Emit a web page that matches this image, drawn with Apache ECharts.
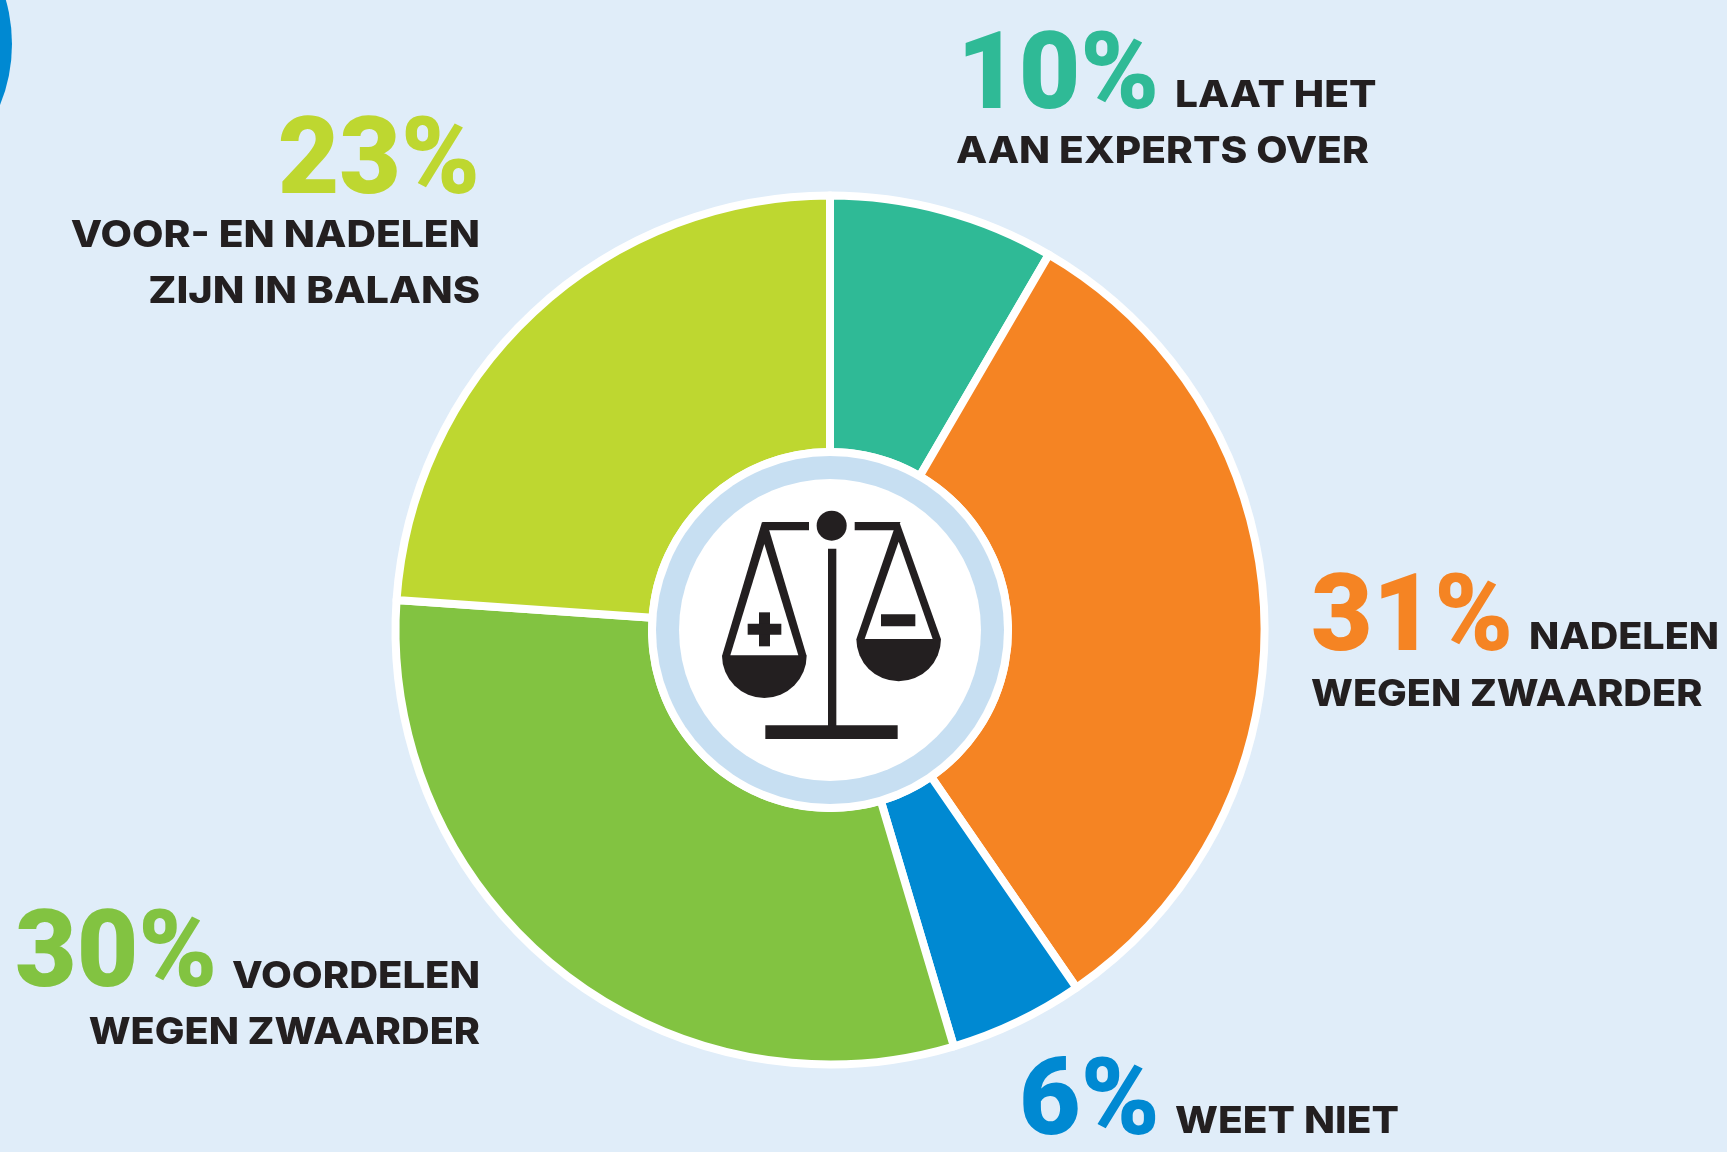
<!DOCTYPE html>
<html>
<head>
<meta charset="utf-8">
<style>
  html, body { margin: 0; padding: 0; background: #e0edf9; }
  #chart { width: 1727px; height: 1152px; }
</style>
<script src="https://cdn.jsdelivr.net/npm/echarts@6/dist/echarts.min.js"></script>
</head>
<body>
<div id="chart"></div>
<script>
const categories = ['Laat het aan experts over', 'Nadelen wegen zwaarder', 'Weet niet', 'Voordelen wegen zwaarder', 'Voor- en nadelen zijn in balans']
// printed percentages
const printedPercents = [10, 31, 6, 30, 23]
// slice sizes as drawn in the picture (they do not follow the printed numbers exactly)
const drawnShares = [8.4, 32, 5, 30.7, 23.9]
const colors = ['#2fba96', '#f58423', '#0089d2', '#82c341', '#bed730']
const firstLines = ['LAAT HET', 'NADELEN', 'WEET NIET', 'VOORDELEN', 'VOOR- EN NADELEN']
const secondLines = ['AAN EXPERTS OVER', 'WEGEN ZWAARDER', '', 'WEGEN ZWAARDER', 'ZIJN IN BALANS']

const dark = '#231f20'
const cx = 830
const cy = 630

function txt(text, x, baseline, font, size, stretch, fill, align) {
  return {
    type: 'text',
    z: 20,
    silent: true,
    x: x,
    y: baseline - size * 0.36,
    scaleX: stretch,
    style: {
      text: text,
      x: 0,
      y: 0,
      fill: fill,
      align: align,
      verticalAlign: 'middle',
      font: font + ' ' + size + 'px ' + (font === '900' ? 'Roboto' : 'Inter') + ', sans-serif'
    }
  }
}

// [percent x, percent align, percent baseline, line1 x, line1 align, line1 baseline, line2 x, line2 align, line2 baseline]
const labelPos = [
  [957, 'left', 120, 1175, 'left', 109, 956, 'left', 165],
  [1311, 'left', 662, 1529, 'left', 651, 1311, 'left', 708],
  [1019, 'left', 1146, 1175, 'left', 1135, 0, 'left', 0],
  [15, 'left', 998, 480, 'right', 990, 480, 'right', 1046],
  [480, 'right', 205, 480, 'right', 249, 480, 'right', 305]
]
const bigSize = 108
const bigStretch = 0.985
const smallSize = 37
// the Inter caps run narrower than the original lettering, line by line
const firstStretch = [1.098, 1.068, 1.098, 1.08, 1.103]
const secondStretch = [1.098, 1.07, 1, 1.07, 1.12]

const labels = []
printedPercents.forEach((p, i) => {
  const pos = labelPos[i]
  labels.push(txt(p + '%', pos[0], pos[2], '900', bigSize, bigStretch, colors[i], pos[1]))
  labels.push(txt(firstLines[i], pos[3], pos[5], '800', smallSize, firstStretch[i], dark, pos[4]))
  if (secondLines[i]) labels.push(txt(secondLines[i], pos[6], pos[8], '800', smallSize, secondStretch[i], dark, pos[7]))
})

// icon coords were taken from a 3x crop starting at (640,440)
const ix = v => 640 + v / 3
const iy = v => 440 + v / 3
const pts = arr => arr.map(a => [ix(a[0]), iy(a[1])])
const solid = { fill: dark }
const white = { fill: '#fff' }
function poly(arr, style) {
  return { type: 'polygon', z: 12, silent: true, shape: { points: pts(arr) }, style: style }
}
function box(x, y, w, h, style) {
  return { type: 'rect', z: 12, silent: true, shape: { x: ix(x), y: iy(y), width: w / 3, height: h / 3 }, style: style }
}
function bowl(x, y, r) {
  return {
    type: 'sector',
    z: 12,
    silent: true,
    shape: { cx: ix(x), cy: iy(y), r: r / 3, r0: 0, startAngle: 0, endAngle: Math.PI, clockwise: true },
    style: solid
  }
}

const icon = [
  poly([[366, 246], [507, 246], [507, 271], [385, 271]], solid),
  poly([[644, 246], [782, 246], [762, 271], [644, 271]], solid),
  { type: 'circle', z: 12, silent: true, shape: { cx: ix(575), cy: iy(257), r: 15 }, style: solid },
  box(564, 326, 25, 540, solid),
  box(376, 856, 397, 41, solid),
  poly([[366, 246], [385, 262], [500, 648], [246, 648]], solid),
  bowl(373, 647, 127),
  poly([[373, 312], [475, 646], [271, 646]], white),
  box(357, 517, 33, 102, solid),
  box(323, 551, 101, 33, solid),
  poly([[778, 246], [903, 598], [649, 598], [764, 262]], solid),
  bowl(776, 597, 127),
  poly([[776, 305], [878, 597], [674, 597]], white),
  box(723, 523, 103, 36, solid)
]

const chart = echarts.init(document.getElementById('chart'), null, { renderer: 'canvas' })
chart.setOption({
  backgroundColor: '#e0edf9',
  animation: false,
  series: [
    {
      type: 'pie',
      silent: true,
      center: [cx, cy],
      radius: [178, 434.5],
      startAngle: 90,
      clockwise: true,
      label: { show: false },
      labelLine: { show: false },
      itemStyle: { borderColor: '#fff', borderWidth: 8 },
      data: categories.map((name, i) => ({
        name: name,
        value: drawnShares[i],
        itemStyle: { color: colors[i] }
      }))
    }
  ],
  graphic: {
    elements: [
      { type: 'circle', z: 1, silent: true, shape: { cx: -149, cy: 44, r: 161 }, style: { fill: '#0089d2' } },
      { type: 'circle', z: 10, silent: true, shape: { cx: cx, cy: cy, r: 182 }, style: { fill: '#fff' } },
      { type: 'circle', z: 10, silent: true, shape: { cx: cx, cy: cy, r: 174 }, style: { fill: '#c7dff2' } },
      { type: 'circle', z: 10, silent: true, shape: { cx: cx, cy: cy, r: 151 }, style: { fill: '#fff' } }
    ].concat(icon, labels)
  }
})
</script>
</body>
</html>
